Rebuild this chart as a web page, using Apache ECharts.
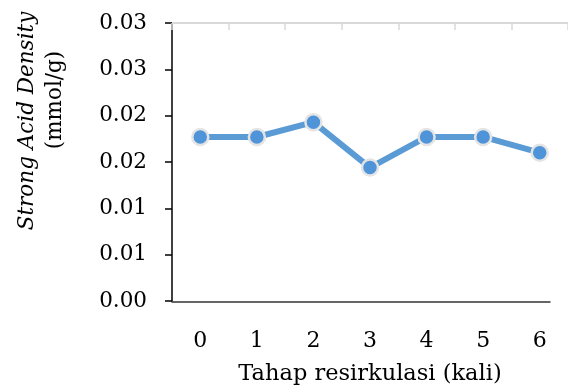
<!DOCTYPE html>
<html>
<head>
<meta charset="utf-8">
<script src="https://cdn.jsdelivr.net/npm/echarts@6/dist/echarts.min.js"></script>
<style>
html,body{margin:0;padding:0;background:#fff;}
#c{width:568px;height:391px;}
</style>
</head>
<body>
<div id="c"></div>
<script>
var categories = ['0','1','2','3','4','5','6'];
var strongAcid = [0.0177, 0.0177, 0.0193, 0.0144, 0.0177, 0.0177, 0.0160];
var yTickLabels = ['0.00','0.01','0.01','0.02','0.02','0.03','0.03'];
var yMin = 0, yMax = 0.03, yStep = 0.005;
var xTitle = 'Tahap resirkulasi (kali)';
var yTitle1 = 'Strong Acid Density';
var yTitle2 = '(mmol/g)';

var FONT = 'DejaVu Serif';
var chart = echarts.init(document.getElementById('c'), null, {renderer:'canvas'});
chart.setOption({
  animation:false,
  backgroundColor:'#fff',
  grid:[
    {left:172, top:23, width:398, bottom:89, containLabel:false},
    {left:172, top:23, width:378, bottom:89, containLabel:false}
  ],
  xAxis:[
    {type:'category', gridIndex:0, data:categories, position:'bottom',
     axisLine:{show:false}, axisTick:{show:false},
     axisLabel:{fontFamily:FONT, fontSize:22, color:'#000', margin:29},
     name:xTitle, nameLocation:'middle', nameGap:62,
     nameTextStyle:{fontFamily:FONT, fontSize:22.5, color:'#000'}},
    {type:'category', gridIndex:0, data:categories, position:'top',
     axisLine:{show:true, lineStyle:{color:'#d9d9d9', width:2}},
     axisTick:{show:true, inside:true, length:7, lineStyle:{color:'#d9d9d9', width:1.5}},
     axisLabel:{show:false}},
    {type:'value', gridIndex:1, min:0, max:1, position:'bottom',
     axisLine:{show:true, onZero:false, lineStyle:{color:'#333', width:1.5}},
     axisTick:{show:false}, axisLabel:{show:false}, splitLine:{show:false}}
  ],
  yAxis:[
    {type:'value', gridIndex:0, min:yMin, max:yMax, interval:yStep,
     axisLine:{show:true, lineStyle:{color:'#000', width:1.5}},
     axisTick:{show:true, length:7, lineStyle:{color:'#000', width:1.5}},
     splitLine:{show:false},
     axisLabel:{fontFamily:FONT, fontSize:21.5, color:'#000', margin:25,
       formatter:function(v){ return yTickLabels[Math.round((v - yMin)/yStep)]; }}},
    {type:'value', gridIndex:1, min:0, max:1, show:false}
  ],
  graphic:[
    {type:'text', x:27, y:121, rotation:Math.PI/2,
     style:{text:yTitle1, font:'italic 21.5px "DejaVu Serif"', fill:'#000', align:'center', verticalAlign:'middle'}},
    {type:'text', x:55, y:100, rotation:Math.PI/2,
     style:{text:yTitle2, font:'21.5px "DejaVu Serif"', fill:'#000', align:'center', verticalAlign:'middle'}}
  ],
  series:[
    {type:'line', xAxisIndex:0, yAxisIndex:0, data:strongAcid,
     symbol:'circle', symbolSize:16,
     lineStyle:{color:'#5b9bd5', width:6},
     itemStyle:{color:'#4f93d8', borderColor:'#e4e4e4', borderWidth:2.5}}
  ]
});
</script>
</body>
</html>
